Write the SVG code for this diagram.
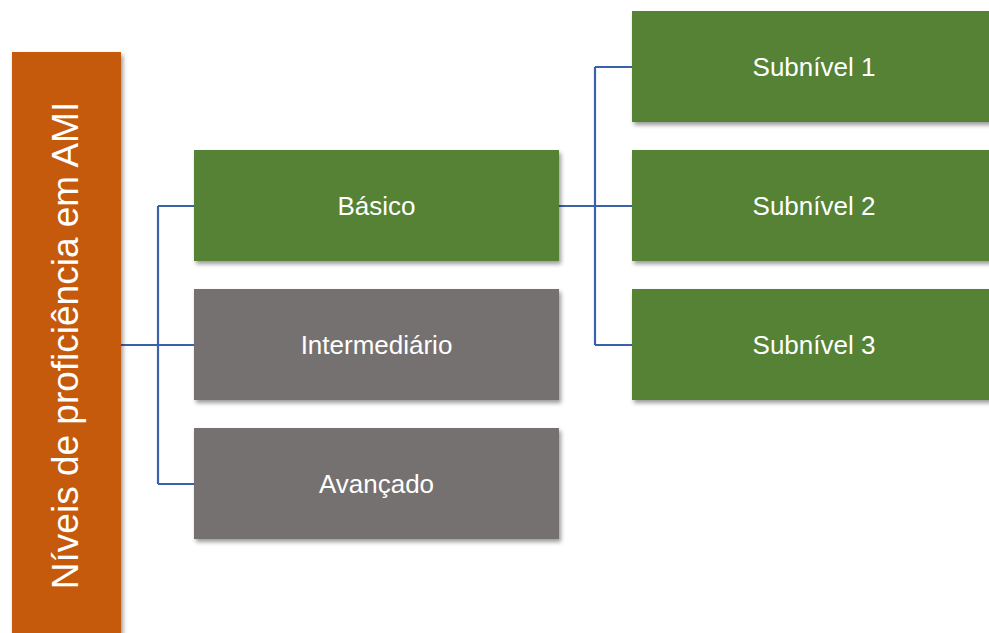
<svg xmlns="http://www.w3.org/2000/svg" width="989" height="633" viewBox="0 0 989 633">
<defs>
<filter id="sh" x="-10%" y="-10%" width="130%" height="140%">
<feDropShadow dx="2" dy="3" stdDeviation="2.2" flood-color="#000" flood-opacity="0.4"/>
</filter>
<style>
.green{fill:#548235;filter:url(#sh)}
.gray{fill:#767171;filter:url(#sh)}
.orange{fill:#C55A11;filter:url(#sh)}
.lbl{font-family:"Liberation Sans",Arial,sans-serif;font-size:26px;fill:#fff;text-anchor:middle}
.conn{fill:none;stroke:#3A62AC;stroke-width:2.2}
</style>
</defs>
<rect width="989" height="633" fill="#fff"/>
<g id="connectors">
<path class="conn" d="M121 345 H158 M158 206 V484 M158 206 H194 M158 345 H194 M158 484 H194"/>
<path class="conn" d="M559 206 H595 M595 67 V345 M595 67 H632 M595 206 H632 M595 345 H632"/>
</g>
<g id="root">
<rect class="orange" x="12" y="52" width="109" height="590"/>
<text class="lbl" style="font-size:37px" transform="translate(78,345.5) rotate(-90)">Níveis de proficiência em AMI</text>
</g>
<g id="basico">
<rect class="green" x="194" y="150" width="365" height="111"/>
<text class="lbl" x="376.5" y="215">Básico</text>
</g>
<g id="intermediario">
<rect class="gray" x="194" y="289" width="365" height="111"/>
<text class="lbl" x="376.5" y="354">Intermediário</text>
</g>
<g id="avancado">
<rect class="gray" x="194" y="428" width="365" height="111"/>
<text class="lbl" x="376.5" y="493">Avançado</text>
</g>
<g id="subnivel1">
<rect class="green" x="632" y="11" width="365" height="111"/>
<text class="lbl" x="814" y="76">Subnível 1</text>
</g>
<g id="subnivel2">
<rect class="green" x="632" y="150" width="365" height="111"/>
<text class="lbl" x="814" y="215">Subnível 2</text>
</g>
<g id="subnivel3">
<rect class="green" x="632" y="289" width="365" height="111"/>
<text class="lbl" x="814" y="354">Subnível 3</text>
</g>
</svg>
